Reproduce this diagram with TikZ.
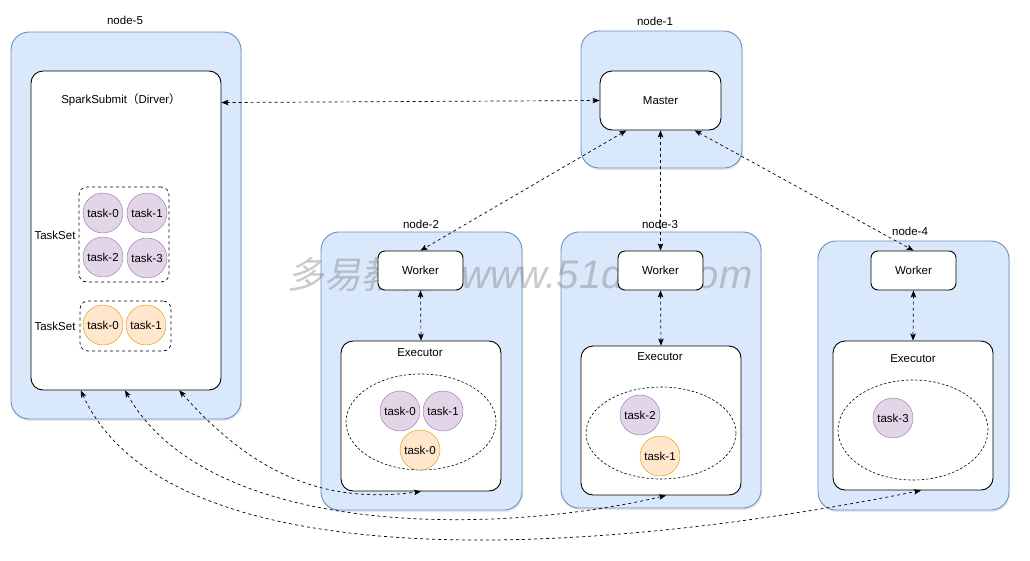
\documentclass[tikz,border=0pt]{standalone}
\usepackage{fontspec}
\setmainfont{Liberation Sans}
\newfontfamily\cjk{Noto Sans CJK SC}
\newfontfamily\wmcjk[FakeSlant=0.2]{Noto Sans CJK SC}
\usetikzlibrary{arrows.meta,calc,shapes.geometric,shadows}
\definecolor{hostfill}{HTML}{DAE8FC}
\definecolor{hostline}{HTML}{6C8EBF}
\definecolor{purfill}{HTML}{E1D5E7}
\definecolor{purline}{HTML}{9673A6}
\definecolor{orfill}{HTML}{FFE6CC}
\definecolor{orline}{HTML}{D79B00}
\begin{document}
\begin{tikzpicture}[x=1pt,y=-1pt,
  font=\fontsize{11.5}{13}\selectfont,
  host/.style={draw=hostline, fill=hostfill, rounded corners=18pt, line width=0.9pt,
    inner sep=0pt, drop shadow={opacity=0.18, shadow xshift=1pt, shadow yshift=-2pt}},
  proc/.style={draw=black, fill=white, rounded corners=12pt, line width=0.9pt, inner sep=0pt},
  setbox/.style={draw=black, dashed, rounded corners=8pt, line width=0.7pt, inner sep=0pt},
  pool/.style={draw=black, dash pattern=on 2.5pt off 2pt, line width=0.6pt, ellipse, inner sep=0pt},
  ptask/.style={circle, draw=purline, fill=purfill, minimum size=40pt, inner sep=0pt},
  otask/.style={circle, draw=orline, fill=orfill, minimum size=40pt, inner sep=0pt},
  lbl/.style={inner sep=1pt},
  link/.style={dash pattern=on 3pt off 3pt, line width=0.7pt,
    {Stealth[length=7pt,width=5.5pt,inset=1.5pt]}-{Stealth[length=7pt,width=5.5pt,inset=1.5pt]}},
]
\useasboundingbox (0,0) rectangle (1030,560);

% ---------- hosts ----------
\node[host, minimum width=230pt, minimum height=387pt] (n5) at (126,225.5) {};
\node[host, minimum width=161pt, minimum height=137pt] (n1) at (661.5,99.5) {};
\node[host, minimum width=201pt, minimum height=278pt] (n2) at (421.5,371) {};
\node[host, minimum width=200pt, minimum height=276pt] (n3) at (661,370) {};
\node[host, minimum width=191pt, minimum height=269pt] (n4) at (913.5,375.5) {};

\node[lbl] (l5) at (125,20) {node-5};
\node[lbl] (l1) at (655,21) {node-1};
\node[lbl] (l2) at (421,224) {node-2};
\node[lbl] (l3) at (660,224) {node-3};
\node[lbl] (l4) at (910,231) {node-4};

% ---------- watermark ----------
\node[anchor=base west, inner sep=0pt, text=gray, opacity=0.42,
  font=\wmcjk\fontsize{37}{40}\selectfont] (wm1) at (287,288) {多易教育};
\node[anchor=base west, inner sep=0pt, text=gray, opacity=0.42,
  font=\fontsize{40}{40}\selectfont\itshape] (wm2) at (461,288) {www.51doit.com};

% ---------- driver ----------
\node[proc, minimum width=190pt, minimum height=319pt] (spark) at (126,230.5) {};
\node[lbl] (sparkt) at (121,100) {SparkSubmit{\cjk （}Dirver{\cjk ）}};
\node[setbox, minimum width=90pt, minimum height=95pt] (ts1) at (124,234.5) {};
\node[setbox, minimum width=91pt, minimum height=50pt] (ts2) at (125.5,326) {};
\node[ptask] (d0) at (103,213) {task-0};
\node[ptask] (d1) at (147,213) {task-1};
\node[ptask] (d2) at (103,257) {task-2};
\node[ptask] (d3) at (147,258) {task-3};
\node[otask] (e0) at (103,325) {task-0};
\node[otask] (e1) at (146,325) {task-1};
\node[lbl] (tsl1) at (55,235) {TaskSet};
\node[lbl] (tsl2) at (55,326) {TaskSet};

% ---------- master ----------
\node[proc, minimum width=121pt, minimum height=59pt] (master) at (660.5,100.5) {Master};

% ---------- workers ----------
\node[proc, rounded corners=7pt, minimum width=85pt, minimum height=39pt] (w2) at (420.5,270.5) {Worker};
\node[proc, rounded corners=7pt, minimum width=85pt, minimum height=39pt] (w3) at (660.5,270.5) {Worker};
\node[proc, rounded corners=7pt, minimum width=85pt, minimum height=39pt] (w4) at (913.5,270.5) {Worker};

% ---------- executors ----------
\node[proc, minimum width=160pt, minimum height=150pt] (x2) at (421,416) {};
\node[proc, minimum width=160pt, minimum height=149pt] (x3) at (661,420.5) {};
\node[proc, minimum width=160pt, minimum height=149pt] (x4) at (913,415.5) {};
\node[lbl] (x2t) at (420,353) {Executor};
\node[lbl] (x3t) at (660,357) {Executor};
\node[lbl] (x4t) at (913,359) {Executor};

\node[pool, minimum width=150pt, minimum height=96pt] (p2) at (421,422) {};
\node[pool, minimum width=150pt, minimum height=92pt] (p3) at (661,433) {};
\node[pool, minimum width=150pt, minimum height=100pt] (p4) at (913,430) {};

\node[ptask] (a0) at (400,411) {task-0};
\node[ptask] (a1) at (443,411) {task-1};
\node[otask] (a2) at (420,450) {task-0};
\node[ptask] (b2) at (640,415) {task-2};
\node[otask] (b1) at (660,456) {task-1};
\node[ptask] (c3) at (893,418) {task-3};

% ---------- connectors ----------
\draw[link] ($(spark.north east)!0.1!(spark.south east)$) -- (master.west);
\draw[link] ($(master.south west)!0.22!(master.south east)$) -- (w2.north);
\draw[link] (master.south) -- (w3.north);
\draw[link] ($(master.south west)!0.78!(master.south east)$) -- (w4.north);
\draw[link] (w2.south) -- (x2.north);
\draw[link] (w3.south) -- (x3.north);
\draw[link] (w4.south) -- (x4.north);

\draw[link] ($(spark.south west)!0.779!(spark.south east)$) .. controls (250,470) and (320,505) .. (x2.south);
\draw[link] ($(spark.south west)!0.495!(spark.south east)$) .. controls (210,540) and (500,535) .. ($(x3.south)+(5,0)$);
\draw[link] ($(spark.south west)!0.263!(spark.south east)$) .. controls (170,585) and (600,555) .. ($(x4.south)+(8,0)$);
\end{tikzpicture}
\end{document}
